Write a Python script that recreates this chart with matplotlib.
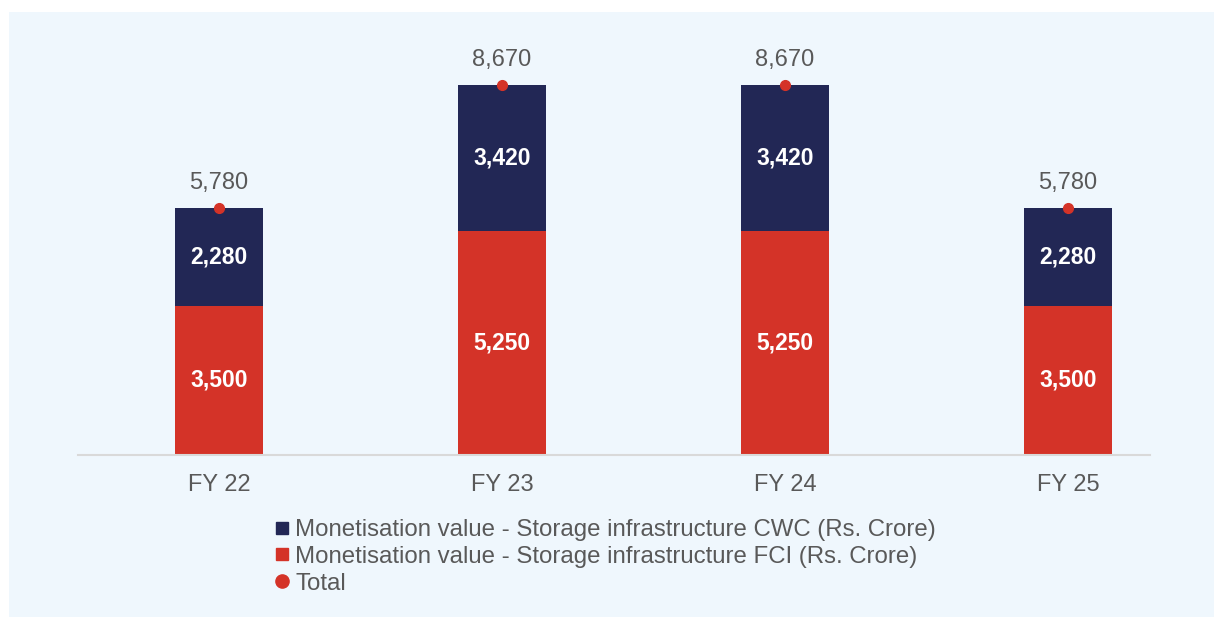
import matplotlib.pyplot as plt
from matplotlib.patches import Rectangle
from matplotlib.lines import Line2D

plt.rcParams['font.family'] = ['Liberation Sans', 'DejaVu Sans']

years = ['FY 22', 'FY 23', 'FY 24', 'FY 25']
fci = [3500, 5250, 5250, 3500]
cwc = [2280, 3420, 3420, 2280]
total = [5780, 8670, 8670, 5780]

red = '#D43328'
navy = '#222755'
grey = '#595959'
bg = '#EFF7FD'

fig = plt.figure(figsize=(12.14, 6.17), dpi=100)
fig.patch.set_facecolor('white')
# light panel behind the whole chart
fig.patches.append(Rectangle((9 / 1214, 0), 1, 1 - 12 / 617, transform=fig.transFigure,
                             facecolor=bg, edgecolor='none', zorder=-10))

ax = fig.add_axes([78 / 1214, 1 - 455 / 617, (1150 - 78) / 1214, (455 - 30) / 617])
ax.set_facecolor('none')

x = range(len(years))
w = 0.311
ax.bar(x, fci, w, color=red, zorder=2)
ax.bar(x, cwc, w, bottom=fci, color=navy, zorder=2)
ax.plot(x, total, 'o', color=red, markersize=7, linestyle='none', zorder=3)

for i in x:
    ax.text(i, fci[i] / 2, f'{fci[i]:,}', ha='center', va='center', color='white',
            fontsize=16.5, fontweight='bold')
    ax.text(i, fci[i] + cwc[i] / 2, f'{cwc[i]:,}', ha='center', va='center', color='white',
            fontsize=16.5, fontweight='bold')
    ax.annotate(f'{total[i]:,}', (i, total[i]), xytext=(0, 10), textcoords='offset points',
                ha='center', va='bottom', color=grey, fontsize=17)

ax.set_xlim(-0.498, 3.29)
ax.set_ylim(0, 8670 * (455 - 30) / 370)
ax.set_xticks(list(x))
ax.set_xticklabels(years, fontsize=17, color=grey)
ax.tick_params(axis='x', length=0, pad=14)
ax.set_yticks([])
for s in ['top', 'right', 'left']:
    ax.spines[s].set_visible(False)
ax.spines['bottom'].set_color('#D9D9D9')
ax.spines['bottom'].set_linewidth(1.5)

handles = [
    Line2D([], [], marker='s', color=navy, linestyle='none', markersize=9),
    Line2D([], [], marker='s', color=red, linestyle='none', markersize=9),
    Line2D([], [], marker='o', color=red, linestyle='none', markersize=9.5),
]
labels = [
    'Monetisation value - Storage infrastructure CWC (Rs. Crore)',
    'Monetisation value - Storage infrastructure FCI (Rs. Crore)',
    'Total',
]
fig.legend(handles, labels, loc='upper left', bbox_to_anchor=(263 / 1214, 1 - 507 / 617),
           frameon=False, fontsize=17.3, labelcolor=grey, handlelength=0.6,
           handletextpad=0.25, labelspacing=0.2, borderpad=0)

fig.savefig('out.png', dpi=100)
